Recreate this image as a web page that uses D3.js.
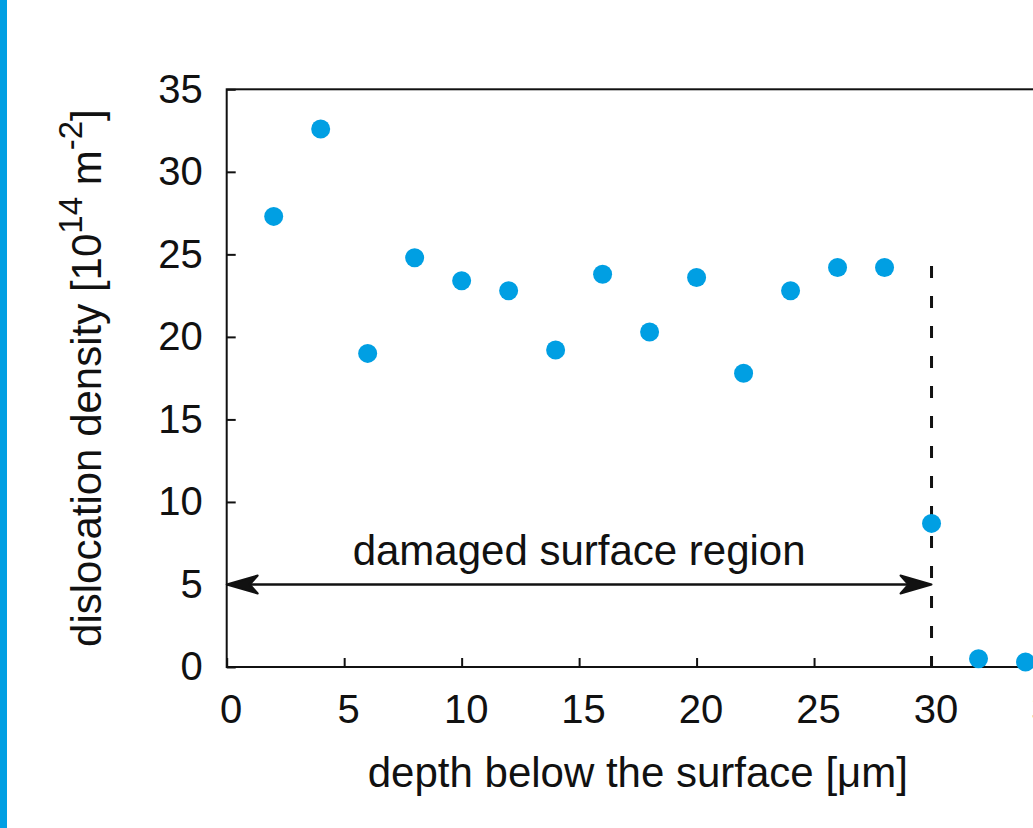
<!DOCTYPE html>
<html>
<head>
<meta charset="utf-8">
<script src="https://cdn.jsdelivr.net/npm/d3@7"></script>
<style>
  html, body { margin: 0; padding: 0; background: #fff; }
  svg { display: block; }
  text { font-family: "Liberation Sans", Arial, Helvetica, sans-serif; fill: #111; }
</style>
</head>
<body>
<svg id="chart" width="1033" height="828"></svg>
<script>
// Measured dislocation density versus depth
const depth = [2, 4, 6, 8, 10, 12, 14, 16, 18, 20, 22, 24, 26, 28, 30, 32, 34];
const density = [27.3, 32.6, 19.0, 24.8, 23.4, 22.8, 19.2, 23.8, 20.3, 23.6, 17.8, 22.8, 24.2, 24.2, 8.7, 0.5, 0.3];

const xTicks = [0, 5, 10, 15, 20, 25, 30, 35];
const yTicks = [0, 5, 10, 15, 20, 25, 30, 35];

// Damaged-zone annotation
const zoneEnd = 30;        // depth of the damaged-region boundary
const zoneLineTop = 24.3;  // top of the dashed boundary line
const zoneArrowLevel = 5;  // density level of the double arrow
const zoneLabel = "damaged surface region";

const ink = "#111";
const dotColor = "#009fe3";

const svg = d3.select("#chart");

// blue strip along the left edge
svg.append("rect").attr("x", 0).attr("y", 0).attr("width", 7).attr("height", 828).attr("fill", dotColor);

const x = d3.scaleLinear().domain([0, 35]).range([226.7, 1049]);
const y = d3.scaleLinear().domain([0, 35]).range([667, 89.3]);

// frame
svg.append("rect")
  .attr("x", x(0)).attr("y", y(35))
  .attr("width", x(35) - x(0)).attr("height", y(0) - y(35))
  .attr("fill", "none").attr("stroke", ink).attr("stroke-width", 2);

// x axis
const xAxis = svg.append("g")
  .attr("transform", `translate(0,${y(0)})`)
  .call(d3.axisBottom(x).tickValues(xTicks).tickFormat(d3.format("d"))
    .tickSizeInner(-9).tickSizeOuter(0).tickPadding(28));
xAxis.select(".domain").remove();
xAxis.selectAll(".tick line").attr("stroke", ink).attr("stroke-width", 2);
xAxis.selectAll(".tick text").attr("font-size", 40).attr("x", 4).attr("fill", ink);

// y axis
const yAxis = svg.append("g")
  .attr("transform", `translate(${x(0)},0)`)
  .call(d3.axisLeft(y).tickValues(yTicks).tickFormat(d3.format("d"))
    .tickSizeInner(-9).tickSizeOuter(0).tickPadding(24));
yAxis.select(".domain").remove();
yAxis.selectAll(".tick line").attr("stroke", ink).attr("stroke-width", 2);
yAxis.selectAll(".tick text").attr("font-size", 40).attr("fill", ink);
svg.selectAll(".tick text").style("font-family", "'Liberation Sans', Arial, Helvetica, sans-serif");

// axis titles
svg.append("text")
  .attr("x", (x(0) + x(35)) / 2).attr("y", 787)
  .attr("text-anchor", "middle").attr("font-size", 42)
  .text("depth below the surface [\u03bcm]");

const yTitle = svg.append("text")
  .attr("transform", `translate(101,${(y(0) + y(35)) / 2}) rotate(-90)`)
  .attr("text-anchor", "middle").attr("font-size", 42);
yTitle.append("tspan").text("dislocation density [10");
yTitle.append("tspan").attr("font-size", 33).attr("dy", -19).text("14");
yTitle.append("tspan").attr("dy", 19).text(" m");
yTitle.append("tspan").attr("font-size", 33).attr("dy", -19).text("-2");
yTitle.append("tspan").attr("dy", 19).text("]");

// dashed boundary of the damaged region
svg.append("line")
  .attr("x1", x(zoneEnd)).attr("x2", x(zoneEnd))
  .attr("y1", y(zoneLineTop)).attr("y2", y(0))
  .attr("stroke", ink).attr("stroke-width", 3)
  .attr("stroke-dasharray", "12 18");

// double-headed arrow spanning the damaged region
const ay = y(zoneArrowLevel);
const headLen = 31, headHalf = 9, notch = 23;
const xa = x(0), xb = x(zoneEnd);
svg.append("line")
  .attr("x1", xa + notch).attr("x2", xb - notch)
  .attr("y1", ay).attr("y2", ay)
  .attr("stroke", ink).attr("stroke-width", 2.6);
svg.append("path")
  .attr("d", `M${xa},${ay} L${xa + headLen},${ay - headHalf} L${xa + notch},${ay} L${xa + headLen},${ay + headHalf} Z`)
  .attr("fill", ink).attr("stroke", ink).attr("stroke-width", 2).attr("stroke-linejoin", "round");
svg.append("path")
  .attr("d", `M${xb},${ay} L${xb - headLen},${ay - headHalf} L${xb - notch},${ay} L${xb - headLen},${ay + headHalf} Z`)
  .attr("fill", ink).attr("stroke", ink).attr("stroke-width", 2).attr("stroke-linejoin", "round");

svg.append("text")
  .attr("x", x(zoneEnd / 2)).attr("y", ay - 19)
  .attr("text-anchor", "middle").attr("font-size", 42)
  .text(zoneLabel);

// data points
svg.append("g")
  .selectAll("circle")
  .data(depth.map((d, i) => ({ d, v: density[i] })))
  .join("circle")
  .attr("cx", p => x(p.d))
  .attr("cy", p => y(p.v))
  .attr("r", 9.5)
  .attr("fill", dotColor);
</script>
</body>
</html>
